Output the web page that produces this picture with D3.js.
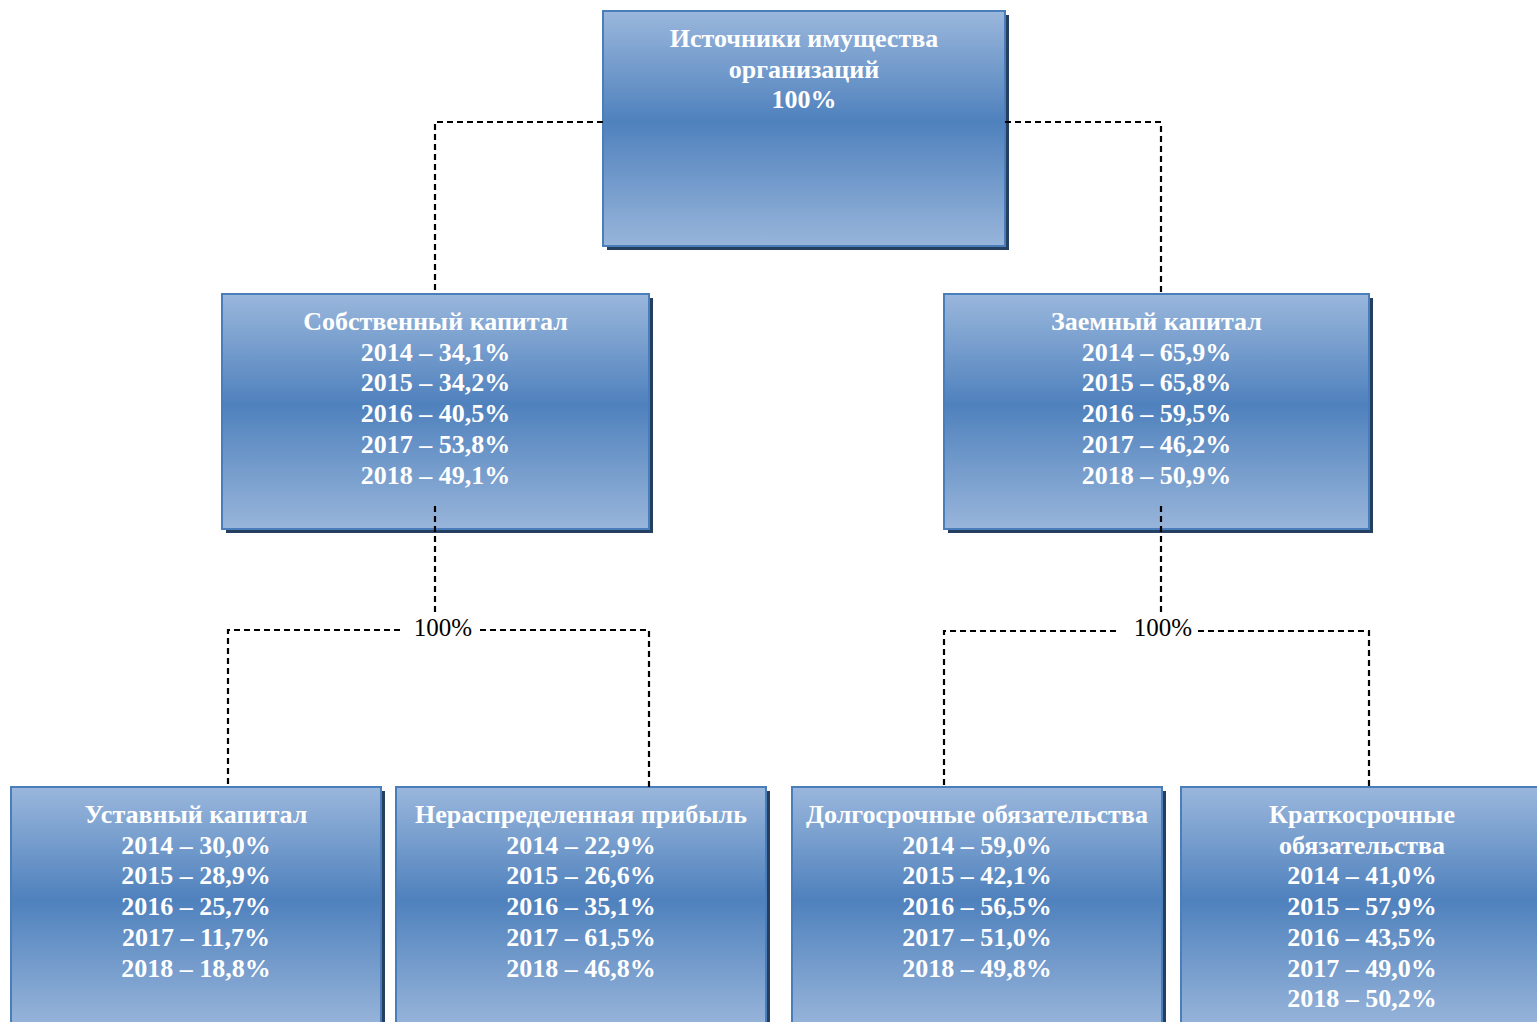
<!DOCTYPE html>
<html><head><meta charset="utf-8">
<script src="https://cdn.jsdelivr.net/npm/d3@7"></script>
<style>html,body{margin:0;padding:0;background:#fff;overflow:hidden}</style>
</head><body>
<svg id="c" width="1537" height="1022"></svg>
<script>
// ---- data ----
const years = ["2014","2015","2016","2017","2018"];
const rootTitle = ["Источники имущества","организаций"];
const rootShare = "100%";
const equityTitle = ["Собственный капитал"];
const equity = ["34,1","34,2","40,5","53,8","49,1"];
const debtTitle = ["Заемный капитал"];
const debt = ["65,9","65,8","59,5","46,2","50,9"];
const charterTitle = ["Уставный капитал"];
const charter = ["30,0","28,9","25,7","11,7","18,8"];
const retainedTitle = ["Нераспределенная прибыль"];
const retained = ["22,9","26,6","35,1","61,5","46,8"];
const longTitle = ["Долгосрочные обязательства"];
const longTerm = ["59,0","42,1","56,5","51,0","49,8"];
const shortTitle = ["Краткосрочные","обязательства"];
const shortTerm = ["41,0","57,9","43,5","49,0","50,2"];
const groupLabel = "100%";

// ---- layout ----
const svg = d3.select("#c");
const defs = svg.append("defs");
const g = defs.append("linearGradient").attr("id","grad").attr("x1",0).attr("y1",0).attr("x2",0).attr("y2",1);
[[0,"#9ab7dc"],[0.47,"#4f81bd"],[1,"#98b5da"]].forEach(s=>g.append("stop").attr("offset",s[0]).attr("stop-color",s[1]));

const lines = (title, vals) => title.concat(vals ? vals.map((v,i)=>years[i]+" – "+v+"%") : []);

const nodes = [
  {x:603,y:11,w:402,h:235,text:rootTitle.concat([rootShare])},
  {x:222,y:294,w:427,h:235,text:lines(equityTitle,equity)},
  {x:944,y:294,w:425,h:235,text:lines(debtTitle,debt)},
  {x:11,y:787,w:370,h:240,text:lines(charterTitle,charter)},
  {x:396,y:787,w:370,h:240,text:lines(retainedTitle,retained)},
  {x:792,y:787,w:370,h:240,text:lines(longTitle,longTerm)},
  {x:1181,y:787,w:362,h:240,text:lines(shortTitle,shortTerm)}
];

const line = d3.line();
const paths = [
  [[603,122],[435,122],[435,294]],
  [[1005,122],[1161,122],[1161,294]],
  [[435,506],[435,612]],
  [[1161,506],[1161,612]],
  [[400,630],[228,630],[228,787]],
  [[480,630],[649,630],[649,787]],
  [[1116,631],[944,631],[944,787]],
  [[1198,631],[1369,631],[1369,787]]
];

// boxes
const box = svg.append("g").selectAll("g").data(nodes).join("g");
box.append("rect").attr("x",d=>d.x+4).attr("y",d=>d.y+4).attr("width",d=>d.w).attr("height",d=>d.h).attr("fill","#243f60");
box.append("rect").attr("x",d=>d.x).attr("y",d=>d.y).attr("width",d=>d.w).attr("height",d=>d.h)
  .attr("fill","url(#grad)").attr("stroke","#4a7ebb").attr("stroke-width",2);
box.append("text").attr("fill","#fff").attr("font-family","'Liberation Serif','Times New Roman',serif")
  .attr("font-weight","bold").attr("font-size",26).attr("text-anchor","middle")
  .selectAll("tspan").data(d=>d.text.map((t,i)=>({t,i,d}))).join("tspan")
  .attr("x",o=>o.d.x+o.d.w/2).attr("y",o=>o.d.y+36+o.i*30.7).text(o=>o.t);

svg.append("g").attr("fill","none").attr("stroke","#000").attr("stroke-width",2.2).attr("stroke-dasharray","6,4")
  .selectAll("path").data(paths).join("path").attr("d",p=>line(p));

svg.selectAll("text.lbl").data([[443,636],[1163,636]]).join("text").attr("class","lbl")
  .attr("x",d=>d[0]).attr("y",d=>d[1]).attr("text-anchor","middle")
  .attr("font-family","'Liberation Serif','Times New Roman',serif").attr("font-size",25).attr("fill","#000").text(groupLabel);
</script>
</body></html>
